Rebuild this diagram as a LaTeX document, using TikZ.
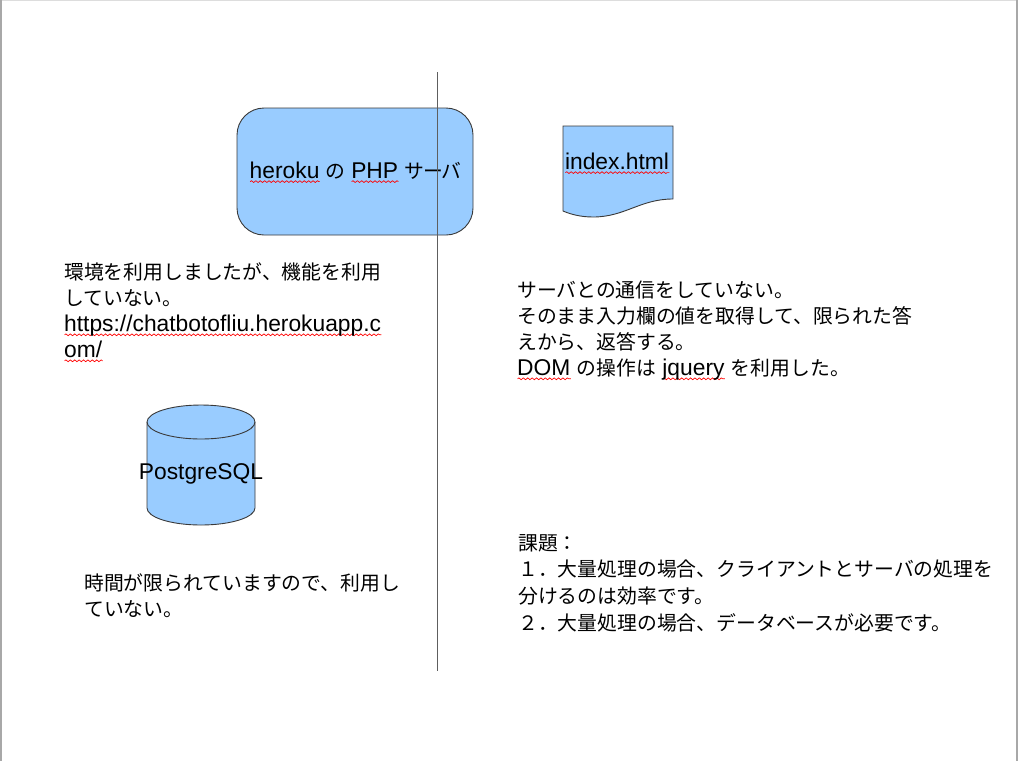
\documentclass[tikz,border=0pt]{standalone}
\usepackage{fontspec}
\setmainfont{Liberation Sans}
\newfontfamily\jp{Noto Sans CJK JP}[Scale=0.87]
\newfontfamily\jpp{Noto Sans CJK JP}[Scale=0.87, RawFeature=+palt]
\usetikzlibrary{decorations.pathmorphing}
\definecolor{shapeblue}{HTML}{99CCFF}
\definecolor{shapeline}{HTML}{3A3A3A}
\definecolor{divgray}{HTML}{5E5E5E}
\definecolor{pagegray}{HTML}{A8A8A8}
\definecolor{pagelight}{HTML}{DDDDDD}
\newcommand\bodyfont{\fontsize{22.8}{26}\selectfont}
\newbox\rwbox
\newdimen\rwd
\newcommand\rw[1]{\setbox\rwbox\hbox{#1}\rwd=\wd\rwbox
  \rlap{\tikz[baseline=0pt,x=1cm,y=1cm,sharp corners,inner sep=0pt,
     every path/.style={}]\draw[red, line width=0.7pt, decorate,
     decoration={snake, amplitude=0.9pt, segment length=4.4pt}]
     (0pt,-3.6pt) -- (\rwd,-3.6pt);}\box\rwbox}
\begin{document}
\begin{tikzpicture}[x=1pt,y=-1pt,
  shapefill/.style={fill=shapeblue, draw=shapeline, line width=0.9pt},
  txt/.style={inner sep=0pt, font=\bodyfont},
  para/.style={txt, anchor=north west, align=left}]
\useasboundingbox (0,0) rectangle (1019,761);
\fill[white] (0,0) rectangle (1019,761);
% page border
\draw[pagelight, line width=1.2pt] (0,0.6) -- (1016,0.6);
\draw[pagegray, line width=1.4pt] (1,0) -- (1,761);
\draw[pagegray, line width=2pt] (1016.8,0) -- (1016.8,761);

% heroku server box
\node[shapefill, rounded corners=27pt, minimum width=236pt, minimum height=127pt,
      inner sep=0pt] (heroku) at (355,171.5) {};
\node[txt, anchor=base] (herokutxt) at (355.5,178)
      {\rw{heroku} {\jpp の} \rw{PHP} {\jpp サーバ}};

% divider
\coordinate (vtop) at (437.5,72);
\coordinate (vbot) at (437.5,671);
\draw[divgray, line width=1.3pt] (vtop) -- (vbot);

% index.html document
\draw[shapefill] (563,126) -- (673,126) -- (673,199)
  .. controls (640,199) and (625,217) .. (593,217)
  .. controls (580,217) and (570,214) .. (563,211) -- cycle;
\node[txt, anchor=base] (index) at (617,169) {\rw{index.html}};

% PostgreSQL cylinder
\draw[shapefill] (147,422) -- (147,508)
  arc[start angle=180, end angle=360, x radius=54pt, y radius=17pt]
  -- (255,422)
  arc[start angle=0, end angle=180, x radius=54pt, y radius=17pt] -- cycle;
\draw[shapeline, line width=0.9pt] (147,422)
  arc[start angle=180, end angle=360, x radius=54pt, y radius=17pt];
\node[txt, anchor=base] (pg) at (201,479) {PostgreSQL};

% notes
\node[para] (envnote) at (64,259)
  {\rule{0pt}{20pt}{\jp 環境を利用しましたが、機能を利用}\\
   {\jp していない。}\\
   \rw{https://chatbotofliu.herokuapp.c}\\
   \rw{om/}};

\node[para] (clientnote) at (517,277)
  {\rule{0pt}{20pt}{\jp サーバとの通信をしていない。}\\
   {\jp そのまま入力欄の値を取得して、限られた答}\\
   {\jp えから、返答する。}\\
   \rw{DOM} {\jp の操作は} \rw{jquery} {\jp を利用した。}};

\node[para, font=\fontsize{22.8}{26.6}\selectfont] (issues) at (518,530)
  {\rule{0pt}{20pt}{\jp 課題：}\\
   {\jp １．大量処理の場合、クライアントとサーバの処理を}\\
   {\jp 分けるのは効率です。}\\
   {\jp ２．大量処理の場合、データベースが必要です。}};

\node[para] (dbnote) at (84,570)
  {\rule{0pt}{20pt}{\jp 時間が限られていますので、利用し}\\
   {\jp ていない。}};
\end{tikzpicture}
\end{document}
